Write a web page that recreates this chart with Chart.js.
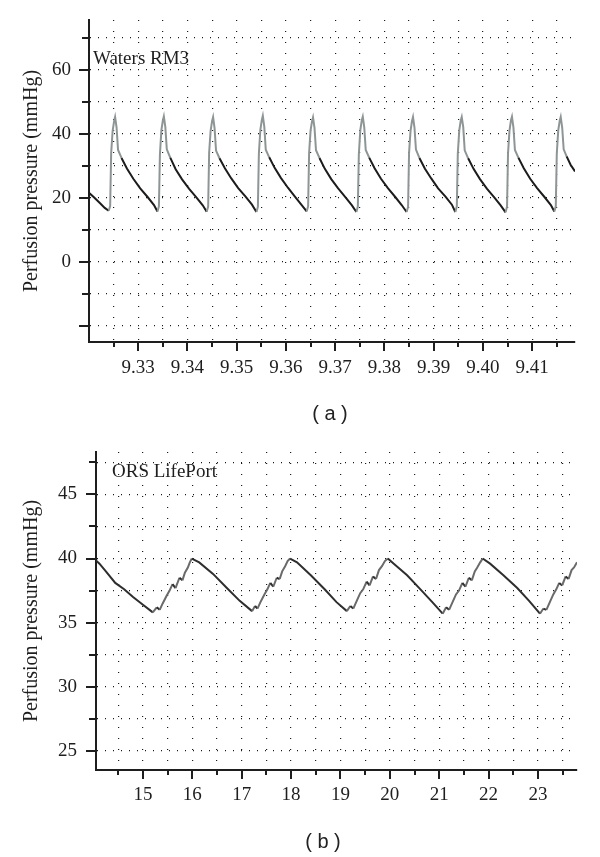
<!DOCTYPE html>
<html>
<head>
<meta charset="utf-8">
<script src="https://cdn.jsdelivr.net/npm/chart.js@4.4.1/dist/chart.umd.min.js"></script>
<style>
  html, body { margin: 0; padding: 0; background: #fff; }
  #page { position: relative; width: 600px; height: 857px; overflow: hidden; }
  canvas { position: absolute; left: 0; }
  #chartA { top: 0; }
  #chartB { top: 440px; }
  .caption { position: absolute; width: 80px; text-align: center; font-family: "Liberation Sans", Arial, sans-serif; font-size: 20px; line-height: 20px; color: #222; white-space: pre; }
</style>
</head>
<body>
<div id="page">
  <canvas id="chartA" width="600" height="440"></canvas>
  <canvas id="chartB" width="600" height="417"></canvas>
  <div class="caption" style="left:290px; top:403px;">( a )</div>
  <div class="caption" style="left:283px; top:831px;">( b )</div>
</div>
<script>
// (a) Waters RM3 - time axis as printed, pressure in mmHg
const rm3Time = [
  9.3200, 9.3210, 9.3222, 9.3232,
  9.3240, 9.3243, 9.3245, 9.3248, 9.3251, 9.3253, 9.3256, 9.3259, 9.3266, 9.3277, 9.3290, 9.3304, 9.3319, 9.3332,
  9.3339, 9.3342, 9.3344, 9.3347, 9.3350, 9.3352, 9.3355, 9.3358, 9.3365, 9.3376, 9.3389, 9.3403, 9.3418, 9.3431,
  9.3439, 9.3442, 9.3444, 9.3447, 9.3450, 9.3452, 9.3455, 9.3458, 9.3465, 9.3476, 9.3489, 9.3503, 9.3518, 9.3531,
  9.3540, 9.3543, 9.3545, 9.3548, 9.3551, 9.3553, 9.3556, 9.3559, 9.3566, 9.3577, 9.3590, 9.3604, 9.3619, 9.3632,
  9.3642, 9.3645, 9.3647, 9.3650, 9.3653, 9.3655, 9.3658, 9.3661, 9.3668, 9.3679, 9.3692, 9.3706, 9.3721, 9.3734,
  9.3743, 9.3746, 9.3748, 9.3751, 9.3754, 9.3756, 9.3759, 9.3762, 9.3769, 9.3780, 9.3793, 9.3807, 9.3822, 9.3835,
  9.3845, 9.3848, 9.3850, 9.3853, 9.3856, 9.3858, 9.3861, 9.3864, 9.3871, 9.3882, 9.3895, 9.3909, 9.3924, 9.3937,
  9.3944, 9.3947, 9.3949, 9.3952, 9.3955, 9.3957, 9.3960, 9.3963, 9.3970, 9.3981, 9.3994, 9.4008, 9.4023, 9.4036,
  9.4046, 9.4049, 9.4051, 9.4054, 9.4057, 9.4059, 9.4062, 9.4065, 9.4072, 9.4083, 9.4096, 9.4110, 9.4125, 9.4138,
  9.4145, 9.4148, 9.4150, 9.4153, 9.4156, 9.4158, 9.4161, 9.4164, 9.4170, 9.4178, 9.4187
];
const rm3Pressure = [
  21.6, 20.2, 18.4, 16.9,
  16.0, 17.5, 34.0, 41.0, 44.0, 45.3, 42.0, 35.0, 32.5, 29.2, 26.0, 23.0, 20.3, 17.8,
  15.8, 17.4, 33.5, 41.2, 44.2, 45.5, 42.2, 35.2, 32.6, 29.0, 25.8, 22.9, 20.2, 17.7,
  15.7, 17.3, 34.2, 41.0, 44.1, 45.3, 41.8, 34.8, 32.4, 29.3, 26.1, 23.1, 20.4, 17.9,
  15.6, 17.2, 33.8, 41.3, 44.4, 45.7, 42.3, 35.1, 32.7, 29.4, 26.2, 23.2, 20.3, 17.8,
  15.8, 17.4, 34.0, 41.1, 44.0, 45.2, 41.9, 34.9, 32.5, 29.1, 25.9, 23.0, 20.2, 17.7,
  15.6, 17.3, 33.6, 41.2, 44.3, 45.4, 42.1, 35.0, 32.6, 29.3, 26.0, 23.1, 20.3, 17.8,
  15.6, 17.2, 34.1, 41.0, 44.1, 45.3, 42.0, 35.1, 32.5, 29.2, 26.1, 23.0, 20.4, 17.9,
  15.6, 17.4, 33.9, 41.2, 44.2, 45.3, 42.2, 34.9, 32.4, 29.1, 25.9, 22.9, 20.2, 17.7,
  15.5, 17.3, 34.0, 41.1, 44.3, 45.4, 42.0, 35.0, 32.6, 29.3, 26.0, 23.1, 20.3, 17.8,
  15.8, 17.4, 33.8, 41.2, 44.1, 45.3, 42.0, 35.2, 33.0, 30.4, 28.3
];
const rm3TimeTicks = [9.325, 9.33, 9.335, 9.34, 9.345, 9.35, 9.355, 9.36, 9.365, 9.37,
  9.375, 9.38, 9.385, 9.39, 9.395, 9.40, 9.405, 9.41, 9.415];
const rm3PressureTicks = [-20, -10, 0, 10, 20, 30, 40, 50, 60, 70];

// (b) ORS LifePort
const lifeportTime = [
  14.05, 14.12, 14.25, 14.44, 14.62, 14.80, 15.00,
  15.20, 15.28, 15.34, 15.40, 15.48, 15.54, 15.60, 15.66, 15.74, 15.80, 15.85, 15.91, 15.95, 15.99, 16.14, 16.42, 16.70, 16.96,
  17.21, 17.27, 17.32, 17.38, 17.46, 17.52, 17.58, 17.64, 17.71, 17.77, 17.82, 17.88, 17.93, 17.98, 18.12, 18.40, 18.68, 18.92,
  19.13, 19.20, 19.26, 19.33, 19.40, 19.46, 19.53, 19.59, 19.66, 19.72, 19.78, 19.84, 19.90, 19.96, 20.08, 20.35, 20.62, 20.86,
  21.07, 21.14, 21.20, 21.27, 21.34, 21.40, 21.47, 21.53, 21.60, 21.66, 21.72, 21.77, 21.83, 21.88, 22.03, 22.30, 22.58, 22.82,
  23.04, 23.11, 23.17, 23.24, 23.31, 23.37, 23.43, 23.49, 23.56, 23.62, 23.68, 23.73, 23.79
];
const lifeportPressure = [
  39.85, 39.6, 39.0, 38.1, 37.6, 37.0, 36.4,
  35.8, 36.2, 36.0, 36.5, 37.1, 37.5, 38.0, 37.7, 38.5, 38.3, 38.9, 39.3, 39.7, 40.0, 39.7, 38.8, 37.7, 36.7,
  35.9, 36.3, 36.1, 36.6, 37.2, 37.6, 38.1, 37.8, 38.5, 38.4, 39.0, 39.4, 39.8, 40.0, 39.7, 38.7, 37.6, 36.6,
  35.9, 36.3, 36.1, 36.7, 37.3, 37.6, 38.2, 37.9, 38.6, 38.4, 39.1, 39.4, 39.8, 40.0, 39.6, 38.7, 37.6, 36.6,
  35.7, 36.2, 36.0, 36.6, 37.2, 37.5, 38.1, 37.8, 38.5, 38.3, 39.0, 39.3, 39.7, 40.0, 39.6, 38.7, 37.7, 36.7,
  35.7, 36.1, 36.0, 36.6, 37.2, 37.6, 38.1, 37.9, 38.6, 38.4, 39.1, 39.3, 39.7
];
const lifeportTimeTicks = [14.5, 15, 15.5, 16, 16.5, 17, 17.5, 18, 18.5, 19, 19.5,
  20, 20.5, 21, 21.5, 22, 22.5, 23, 23.5];
const lifeportPressureTicks = [25, 27.5, 30, 32.5, 35, 37.5, 40, 42.5, 45, 47.5];

const serif = '"Liberation Serif", "Times New Roman", serif';
const ink = '#1e1e1e';

// solid tick marks (long on labelled ticks) + panel name inside the plot
function frame(cfg) {
  return {
    id: 'frame',
    afterDraw(chart) {
      const { ctx, chartArea } = chart;
      const xs = chart.scales.x, ys = chart.scales.y;
      ctx.save();
      ctx.strokeStyle = ink;
      ctx.lineWidth = 2;
      ctx.beginPath();
      xs.ticks.forEach(t => {
        const px = Math.round(xs.getPixelForValue(t.value));
        const len = cfg.xMajor(t.value) ? 9 : 5;
        ctx.moveTo(px, chartArea.bottom);
        ctx.lineTo(px, chartArea.bottom + len);
      });
      ys.ticks.forEach(t => {
        const py = Math.round(ys.getPixelForValue(t.value));
        const len = cfg.yMajor(t.value) ? 10 : 7;
        ctx.moveTo(chartArea.left, py);
        ctx.lineTo(chartArea.left - len, py);
      });
      ctx.stroke();
      ctx.font = '19px ' + serif;
      ctx.fillStyle = ink;
      ctx.textBaseline = 'alphabetic';
      ctx.fillText(cfg.name, chartArea.left + cfg.dx, chartArea.top + cfg.dy);
      ctx.restore();
    }
  };
}

const near = (v, step) => Math.abs(v / step - Math.round(v / step)) < 1e-6;

function axisOpts(o) {
  return {
    type: 'linear',
    min: o.min,
    max: o.max,
    afterBuildTicks: s => { s.ticks = o.ticks.map(v => ({ value: v })); },
    afterFit: o.fit,
    ticks: {
      autoSkip: false,
      maxRotation: 0,
      padding: 0,
      includeBounds: false,
      color: ink,
      font: { family: serif, size: 19 },
      callback: o.label
    },
    grid: {
      color: '#1a1a1a',
      lineWidth: 1.2,
      drawTicks: true,
      tickLength: o.tickLength,
      tickColor: 'rgba(0,0,0,0)'
    },
    border: { display: true, color: ink, width: 2, dash: o.dash },
    title: o.title ? {
      display: true,
      text: o.title,
      color: ink,
      font: { family: serif, size: 20 },
      padding: { top: 20, bottom: 0 }
    } : { display: false }
  };
}

// rising strokes (and the systolic cap above `cap`) are lighter grey
function lineSet(times, values, up, down, cap) {
  return {
    data: times.map((t, i) => ({ x: t, y: values[i] })),
    borderWidth: 2,
    pointRadius: 0,
    tension: 0,
    borderColor: down,
    segment: {
      borderColor: c => (c.p1.parsed.y > c.p0.parsed.y || c.p0.parsed.y > cap) ? up : down
    }
  };
}

new Chart(document.getElementById('chartA'), {
  type: 'line',
  data: { datasets: [lineSet(rm3Time, rm3Pressure, '#8e9595', '#1c1c1c', 33.5)] },
  options: {
    responsive: false,
    animation: false,
    devicePixelRatio: 1,
    layout: { padding: { top: 20, right: 25, left: 0, bottom: 0 } },
    plugins: { legend: { display: false }, tooltip: { enabled: false } },
    scales: {
      x: axisOpts({
        min: 9.32, max: 9.4187, ticks: rm3TimeTicks, tickLength: 15, dash: [1, 10],
        fit: s => { s.height = 98; },
        label: v => near(v, 0.01) ? v.toFixed(2) : ''
      }),
      y: axisOpts({
        min: -25, max: 75.6, ticks: rm3PressureTicks, tickLength: 18, dash: [1, 7],
        fit: s => { s.width = 89; },
        title: 'Perfusion pressure (mmHg)',
        label: v => (v >= 0 && near(v, 20)) ? String(v) : ''
      })
    }
  },
  plugins: [frame({ name: 'Waters RM3', dx: 4, dy: 44, xMajor: v => near(v, 0.01), yMajor: v => near(v, 20) })]
});

new Chart(document.getElementById('chartB'), {
  type: 'line',
  data: { datasets: [lineSet(lifeportTime, lifeportPressure, '#6a6a6a', '#2e2e2e', 99)] },
  options: {
    responsive: false,
    animation: false,
    devicePixelRatio: 1,
    layout: { padding: { top: 12, right: 23, left: 0, bottom: 0 } },
    plugins: { legend: { display: false }, tooltip: { enabled: false } },
    scales: {
      x: axisOpts({
        min: 14.05, max: 23.79, ticks: lifeportTimeTicks, tickLength: 14, dash: [1, 10],
        fit: s => { s.height = 87; },
        label: v => near(v, 1) ? String(Math.round(v)) : ''
      }),
      y: axisOpts({
        min: 23.52, max: 48.3, ticks: lifeportPressureTicks, tickLength: 19, dash: [1, 7],
        fit: s => { s.width = 96; },
        title: 'Perfusion pressure (mmHg)',
        label: v => near(v, 5) ? String(Math.round(v)) : ''
      })
    }
  },
  plugins: [frame({ name: 'ORS LifePort', dx: 16, dy: 25, xMajor: v => near(v, 1), yMajor: v => near(v, 5) })]
});
</script>
</body>
</html>
